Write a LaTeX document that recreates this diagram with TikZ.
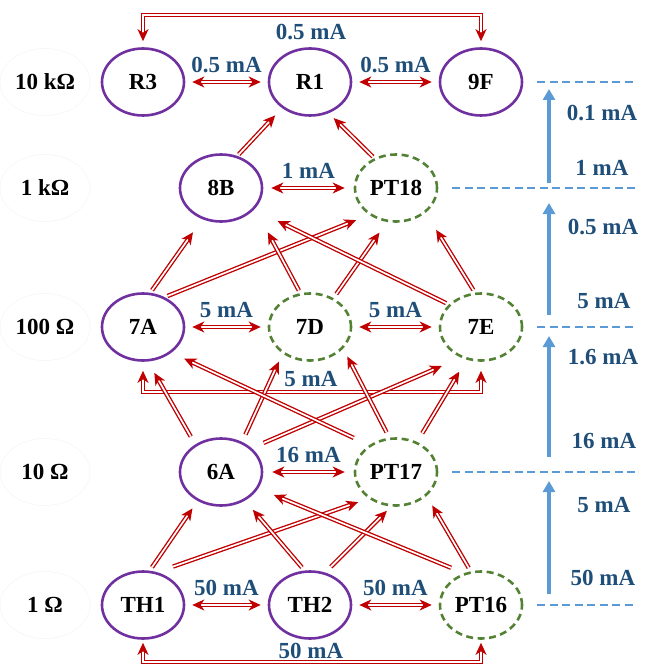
\documentclass[tikz,border=0pt]{standalone}
\usepackage{fontspec}
\setmainfont{Liberation Serif}
\usetikzlibrary{arrows.meta,shapes.geometric}
\definecolor{nodepurple}{HTML}{7030A0}
\definecolor{nodegreen}{HTML}{548235}
\definecolor{flowred}{HTML}{C00000}
\definecolor{scaleblue}{HTML}{5B9BD5}
\definecolor{labelblue}{HTML}{1F4E79}
\begin{document}
\begin{tikzpicture}[x=1pt,y=-1pt,
  font=\fontsize{23}{26}\selectfont\bfseries,
  >={Stealth[length=12pt,width=11pt,inset=3.5pt]},
  dev/.style={ellipse,minimum width=82pt,minimum height=67pt,inner sep=0pt,line width=2.6pt},
  olddev/.style={dev,draw=nodepurple},
  newdev/.style={dev,draw=nodegreen,dash pattern=on 7pt off 4.5pt},
  ohm/.style={ellipse,draw=black!4,line width=0.6pt,minimum width=90pt,minimum height=67pt,inner sep=0pt},
  flow/.style={draw=flowred,double=white,double distance=1.7pt,line width=1.35pt},
  amp/.style={text=labelblue},
  onarrow/.style={amp,yshift=17pt},
  scaledash/.style={draw=scaleblue,line width=2.4pt,dash pattern=on 8pt off 4.5pt},
  scaleup/.style={draw=scaleblue,line width=4.2pt,-{Triangle[length=11pt,width=12pt]}}
]
\useasboundingbox (0,0) rectangle (647,666);

% resistance levels
\node[ohm] (ohm1) at (45,82)  {10 kΩ};
\node[ohm] (ohm2) at (45,188) {1 kΩ};
\node[ohm] (ohm3) at (45,327) {100 Ω};
\node[ohm] (ohm4) at (45,472) {10 Ω};
\node[ohm] (ohm5) at (45,605) {1 Ω};

% devices
\node[olddev] (R3)   at (143,82)  {R3};
\node[olddev] (R1)   at (310,82)  {R1};
\node[olddev] (9F)   at (481,82)  {9F};
\node[olddev] (8B)   at (221,188) {8B};
\node[newdev] (PT18) at (396,188) {PT18};
\node[olddev] (7A)   at (143,327) {7A};
\node[newdev] (7D)   at (310,327) {7D};
\node[newdev] (7E)   at (481,327) {7E};
\node[olddev] (6A)   at (221,472) {6A};
\node[newdev] (PT17) at (396,472) {PT17};
\node[olddev] (TH1)  at (143,605) {TH1};
\node[olddev] (TH2)  at (310,605) {TH2};
\node[newdev] (PT16) at (481,605) {PT16};

% same-level exchanges
\draw[flow,<->,shorten <=7pt,shorten >=7pt] (R3) -- node[onarrow] {0.5 mA} (R1);
\draw[flow,<->,shorten <=7pt,shorten >=7pt] (R1) -- node[onarrow] {0.5 mA} (9F);
\draw[flow,<->,shorten <=8pt,shorten >=9pt] (8B) -- node[onarrow] {1 mA} (PT18);
\draw[flow,<->,shorten <=7pt,shorten >=7pt] (7A) -- node[onarrow] {5 mA} (7D);
\draw[flow,<->,shorten <=7pt,shorten >=7pt] (7D) -- node[onarrow] {5 mA} (7E);
\draw[flow,<->,shorten <=9pt,shorten >=9pt] (6A) -- node[onarrow] {16 mA} (PT17);
\draw[flow,<->,shorten <=7pt,shorten >=7pt] (TH1) -- node[onarrow] {50 mA} (TH2);
\draw[flow,<->,shorten <=7pt,shorten >=7pt] (TH2) -- node[onarrow] {50 mA} (PT16);

% outer exchanges
\coordinate (topbar) at (311,15);
\coordinate (midbar) at (311,392);
\coordinate (botbar) at (311,662);
\draw[flow,<->,shorten <=6pt,shorten >=6pt] (R3.north) |- (topbar) -| (9F.north);
\node[amp] (toplbl) at (311,32) {0.5 mA};
\draw[flow,<->,shorten <=9pt,shorten >=9pt] (7A.south) |- (midbar) -| (7E.south);
\node[amp] (midlbl) at (311,379) {5 mA};
\draw[flow,<->,shorten <=3pt,shorten >=3pt] (TH1.south) |- (botbar) -| (PT16.south);
\node[amp] (botlbl) at (311,651) {50 mA};

% 1 kOhm -> 10 kOhm
\draw[flow,->,shorten <=2pt,shorten >=10pt] (8B.63) -- (R1.-137);
\draw[flow,->,shorten <=2pt,shorten >=7pt] (PT18.126) -- (R1.-59);

% 100 Ohm -> 1 kOhm
\draw[flow,->,shorten <=3pt,shorten >=16pt] (7A.78) -- (8B.-121);
\draw[flow,->,shorten <=3pt,shorten >=14pt] (7A.54) -- (PT18.-135);
\draw[flow,->,shorten <=3pt,shorten >=27pt] (7D.106) -- (8B.-31);
\draw[flow,->,shorten <=5pt,shorten >=13pt] (7D.51) -- (PT18.-105);
\draw[flow,->,shorten <=3pt,shorten >=26pt] (7E.145) -- (8B.-33);
\draw[flow,->,shorten <=3pt,shorten >=20pt] (7E.100) -- (PT18.-40);

% 10 Ohm -> 100 Ohm
\draw[flow,->,shorten <=9pt,shorten >=13pt] (6A.133) -- (7A.-82);
\draw[flow,->,shorten <=8pt,shorten >=9pt] (6A.55) -- (7D.-136);
\draw[flow,->,shorten <=13pt,shorten >=21pt] (6A.38) -- (7E.-123);
\draw[flow,->,shorten <=17pt,shorten >=14pt] (PT17.135) -- (7A.-42);
\draw[flow,->,shorten <=6pt,shorten >=9pt] (PT17.101) -- (7D.-33);
\draw[flow,->,shorten <=10pt,shorten >=14pt] (PT17.55) -- (7E.-114);

% 1 Ohm -> 10 Ohm
\draw[flow,->,shorten <=4pt,shorten >=9pt] (TH1.79) -- (6A.-129);
\draw[flow,->,shorten <=17pt,shorten >=11pt] (TH1.67) -- (PT17.-136);
\draw[flow,->,shorten <=4pt,shorten >=12pt] (TH2.99) -- (6A.-50);
\draw[flow,->,shorten <=8pt,shorten >=6pt] (TH2.65) -- (PT17.-98);
\draw[flow,->,shorten <=14pt,shorten >=17pt] (PT16.118) -- (6A.-24);
\draw[flow,->,shorten <=4pt,shorten >=11pt] (PT16.107) -- (PT17.-38);

% current scale on the right
\coordinate (d1) at (636,82);
\coordinate (d2) at (636,188);
\coordinate (d3) at (636,327);
\coordinate (d4) at (636,472);
\coordinate (d5) at (636,605);
\draw[scaledash] ([xshift=14pt]9F.east) -- (d1);
\draw[scaledash] ([xshift=14pt]PT18.east) -- (d2);
\draw[scaledash] ([xshift=14pt]7E.east) -- (d3);
\draw[scaledash] ([xshift=14pt]PT17.east) -- (d4);
\draw[scaledash] ([xshift=14pt]PT16.east) -- (d5);

\coordinate (u1a) at (549,183); \coordinate (u1b) at (549,89);
\coordinate (u2a) at (549,315); \coordinate (u2b) at (549,203);
\coordinate (u3a) at (549,457); \coordinate (u3b) at (549,336);
\coordinate (u4a) at (549,594); \coordinate (u4b) at (549,481);
\draw[scaleup] (u1a) -- (u1b);
\draw[scaleup] (u2a) -- (u2b);
\draw[scaleup] (u3a) -- (u3b);
\draw[scaleup] (u4a) -- (u4b);

\node[amp] (s1) at (602,113) {0.1 mA};
\node[amp] (s2) at (602,168) {1 mA};
\node[amp] (s3) at (603,227) {0.5 mA};
\node[amp] (s4) at (604,301) {5 mA};
\node[amp] (s5) at (603,357) {1.6 mA};
\node[amp] (s6) at (604,441) {16 mA};
\node[amp] (s7) at (604,505) {5 mA};
\node[amp] (s8) at (603,578) {50 mA};
\end{tikzpicture}
\end{document}
